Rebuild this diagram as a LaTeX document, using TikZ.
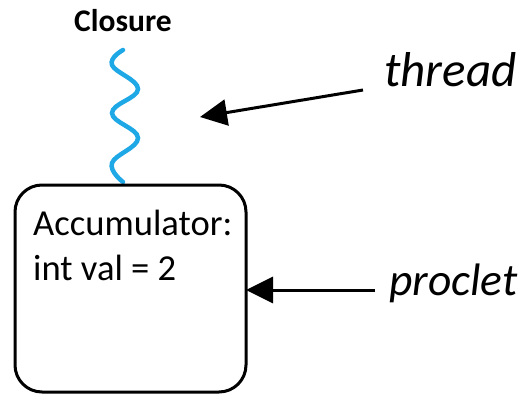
\documentclass[tikz,border=0pt]{standalone}
\usepackage{fontspec}
\setmainfont{Carlito}
\usetikzlibrary{arrows.meta}
\definecolor{wave}{HTML}{1EA8E6}
\tikzset{
  lbl/.style={inner sep=0pt, anchor=base west},
  pointer/.style={line width=3pt, -{Triangle[length=27pt,width=26pt]}},
  procbox/.style={draw, line width=3pt, rounded corners=27pt}
}
\begin{document}
\begin{tikzpicture}[x=1pt,y=-1pt]
  \useasboundingbox (0,0) rectangle (526,395);
  % closure label and its thread squiggle
  \node[lbl, font=\bfseries\fontsize{31.5}{38}\selectfont] (closure) at (74,32) {Closure};
  \draw[wave, line width=4.5pt, line cap=round]
    plot[smooth, tension=0.7] coordinates
    {(123,50) (112,65) (138,89) (112,113) (138,138) (112,163) (123,182)};
  % the proclet box
  \draw[procbox] (15,185) rectangle (246,392);
  \coordinate (boxeast) at (246,290);
  \node[lbl, font=\fontsize{36.6}{44}\selectfont] (acc) at (33,235) {Accumulator:};
  \node[lbl, font=\fontsize{36.6}{44}\selectfont] (val) at (33,280) {int val = 2};
  % labels with arrows
  \node[lbl, font=\itshape\fontsize{49}{58}\selectfont] (thread) at (384,87) {thread};
  \node[lbl, font=\itshape\fontsize{45.5}{54}\selectfont] (proclet) at (389,295) {proclet};
  \coordinate (tstart) at (363,90);
  \coordinate (ttip) at (200,117);
  \coordinate (pstart) at (375,290);
  \draw[pointer] (tstart) -- (ttip);
  \draw[pointer] (pstart) -- (boxeast);
\end{tikzpicture}
\end{document}
